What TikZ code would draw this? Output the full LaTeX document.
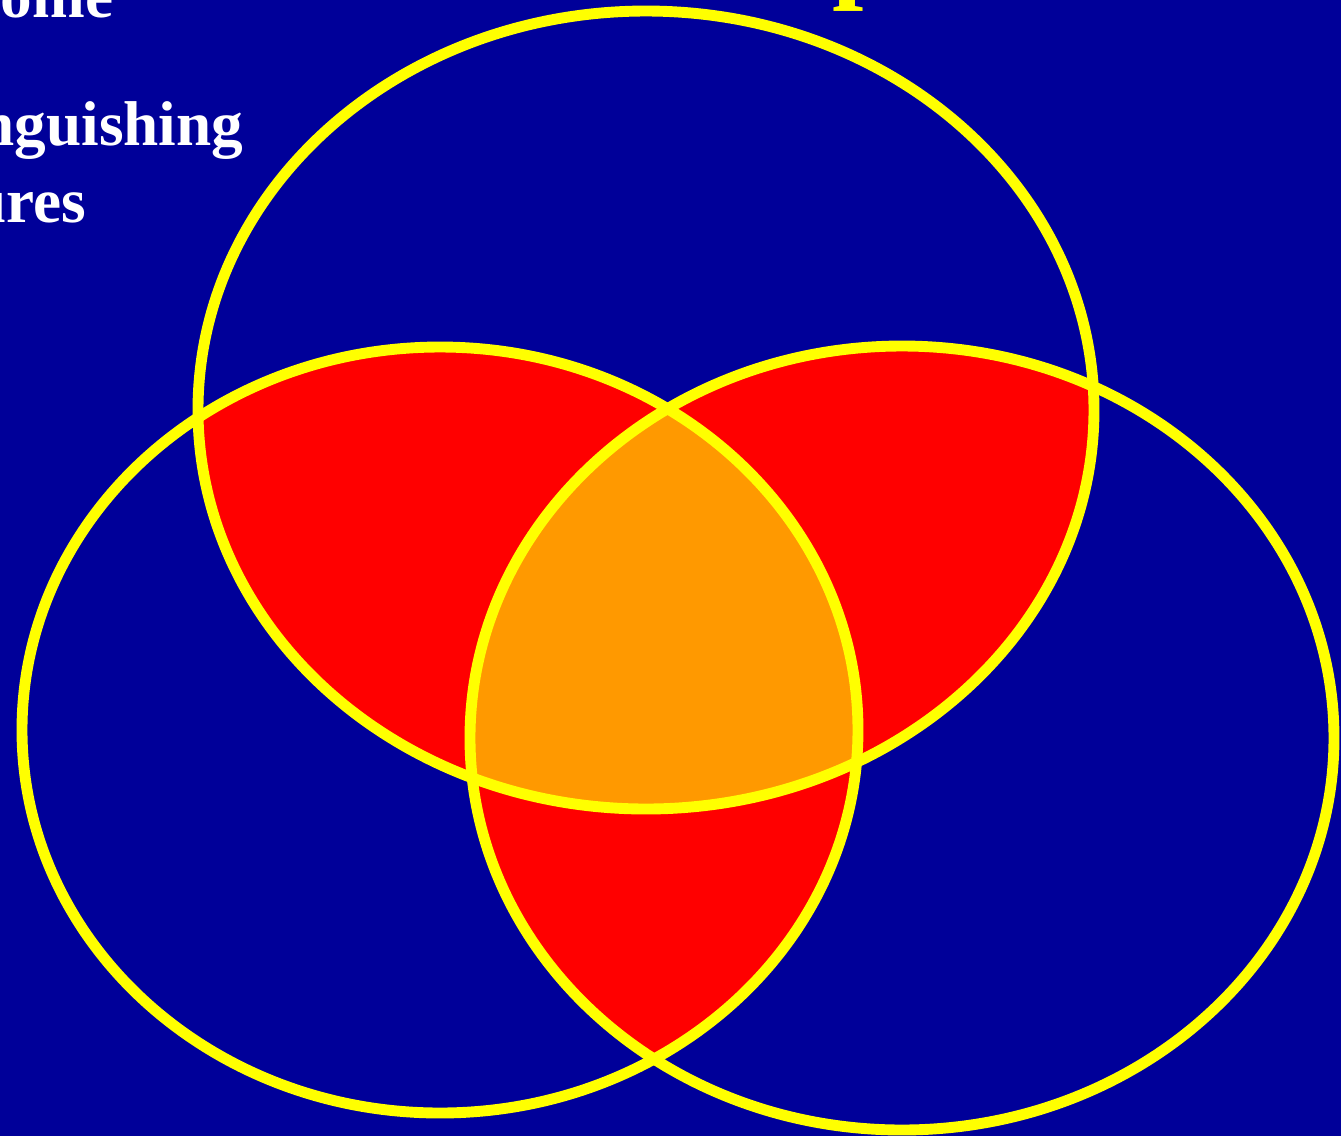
\documentclass[tikz,border=0pt]{standalone}
\usepackage{fontspec}
\setmainfont{Liberation Serif}
\usepackage{xcolor}
\definecolor{slideblue}{HTML}{000099}
\definecolor{ringyellow}{HTML}{FFFF00}
\definecolor{pairred}{HTML}{FF0000}
\definecolor{coreorange}{HTML}{FF9900}

\newcommand{\topset}{(6.46,-4.10) ellipse [x radius=4.48cm, y radius=3.99cm]}
\newcommand{\leftset}{(4.40,-7.30) ellipse [x radius=4.18cm, y radius=3.83cm]}
\newcommand{\rightset}{(9.02,-7.38) ellipse [x radius=4.32cm, y radius=3.92cm]}

\begin{document}
\begin{tikzpicture}[font=\bfseries\fontsize{18}{22}\selectfont,
    ring/.style={draw=ringyellow, line width=3.1pt},
    bodytext/.style={text=white, inner sep=0pt},
    titletext/.style={text=ringyellow, inner sep=0pt, font=\bfseries\fontsize{32}{38}\selectfont}
]
\useasboundingbox (0,0) rectangle (13.41,-11.36);
\clip (0,0) rectangle (13.41,-11.36);
\fill[slideblue] (0,0) rectangle (13.41,-11.36);

% pairwise overlaps
\begin{scope}
  \clip \topset;
  \fill[pairred] \leftset;
  \fill[pairred] \rightset;
\end{scope}
\begin{scope}
  \clip \leftset;
  \fill[pairred] \rightset;
\end{scope}
% all three
\begin{scope}
  \clip \topset;
  \clip \leftset;
  \fill[coreorange] \rightset;
\end{scope}

\draw[ring] \topset;
\draw[ring] \leftset;
\draw[ring] \rightset;

% cut-off slide text
\node[bodytext, anchor=base east] (line1) at (1.14,-0.17) {ome};
\node[bodytext, anchor=base east] (line2) at (2.44,-1.45) {nguishing};
\node[bodytext, anchor=base east] (line3) at (0.87,-2.22) {ures};
\node[titletext, anchor=base west] (title) at (8.32,0.13) {p};
\end{tikzpicture}
\end{document}
